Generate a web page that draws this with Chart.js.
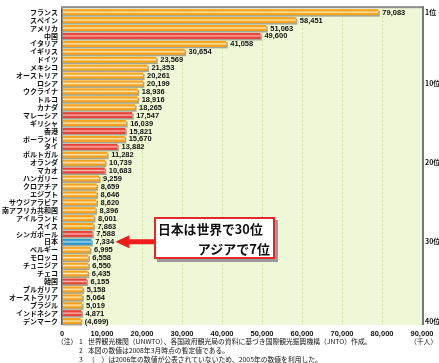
<!DOCTYPE html>
<html><head><meta charset="utf-8">
<script src="https://cdn.jsdelivr.net/npm/chart.js@4/dist/chart.umd.min.js"></script>
<style>
html,body{margin:0;padding:0;background:#fff;}
#wrap{position:relative;width:439px;height:363px;overflow:hidden;}
canvas{position:absolute;left:0;top:0;}
.n{position:absolute;font-family:"Noto Sans CJK JP";font-size:6.8px;color:#111;white-space:nowrap;line-height:8px;}
#callout{position:absolute;left:154px;top:217px;width:117px;height:38px;border:2px solid #e8262a;background:#fff;box-shadow:3px 3px 0 #9a9a9a;font-family:"Noto Sans CJK JP";font-weight:bold;font-size:12.8px;color:#111;}
#callout .l1{position:absolute;left:2px;top:3px;line-height:14px;white-space:nowrap;}
#callout .l2{position:absolute;right:3px;top:23px;line-height:14px;white-space:nowrap;font-size:13px;}
</style></head>
<body><div id="wrap">
<canvas id="c" width="439" height="363"></canvas>
<div id="callout"><span class="l1">日本は世界で30位</span><span class="l2">アジアで7位</span></div>
<div class="n" style="left:57px;top:337px">（注）</div>
<div class="n" style="left:79px;top:337px">1</div>
<div class="n" style="left:88px;top:337px">世界観光機関（UNWTO）、各国政府観光局の資料に基づき国際観光振興機構（JNTO）作成。</div>
<div class="n" style="left:79px;top:346px">2</div>
<div class="n" style="left:88px;top:346px">本図の数値は2008年3月時点の暫定値である。</div>
<div class="n" style="left:79px;top:355px">3</div>
<div class="n" style="left:88px;top:355px">（　）は2006年の数値が公表されていないため、2005年の数値を利用した。</div>
<div class="n" style="left:410px;top:337px">（千人）</div>
</div>
<script>
const countries = ['フランス','スペイン','アメリカ','中国','イタリア','イギリス','ドイツ','メキシコ','オーストリア','ロシア',
 'ウクライナ','トルコ','カナダ','マレーシア','ギリシャ','香港','ポーランド','タイ','ポルトガル','オランダ',
 'マカオ','ハンガリー','クロアチア','エジプト','サウジアラビア','南アフリカ共和国','アイルランド','スイス','シンガポール','日本',
 'ベルギー','モロッコ','チュニジア','チェコ','韓国','ブルガリア','オーストラリア','ブラジル','インドネシア','デンマーク'];
const visitors = [79083,58451,51063,49600,41058,30654,23569,21353,20261,20199,
 18936,18916,18265,17547,16039,15821,15670,13882,11282,10739,
 10683,9259,8659,8646,8620,8396,8001,7863,7588,7334,
 6995,6558,6550,6435,6155,5158,5064,5019,4871,4699];
const asiaCountries = ['中国','マレーシア','香港','タイ','マカオ','シンガポール','韓国','インドネシア'];
const highlightCountry = '日本';
const figures2005 = ['デンマーク'];
const rankTicks = [1,10,20,30,40];
const xTicks = [0,10000,20000,30000,40000,50000,60000,70000,80000,90000];

const palette = {
  other:{base:'#f5a21f', light:'#fde6ae'},
  asia:{base:'#e8423b', light:'#f8b4a6'},
  japan:{base:'#2e97cc', light:'#a8d8ef'}
};
function groupOf(name){ return name===highlightCountry?'japan':(asiaCountries.includes(name)?'asia':'other'); }
const rankAxisLabels = countries.map((c,i)=> rankTicks.includes(i+1) ? (i+1)+'位' : '');

const bgPlugin = {
  id:'bg',
  beforeDraw(chart){
    const {ctx, chartArea:a} = chart;
    ctx.save(); ctx.fillStyle='#eef7d6'; ctx.fillRect(a.left,a.top,a.right-a.left,a.bottom-a.top); ctx.restore();
  },
  beforeDatasetsDraw(chart){
    const ctx = chart.ctx;
    const meta = chart.getDatasetMeta(0);
    ctx.save(); ctx.fillStyle='#a3a896';
    meta.data.forEach(b=>{
      const p = b.getProps(['x','y','base','height'], true);
      ctx.fillRect(p.base, p.y - p.height/2 + 1.5, p.x - p.base + 1.5, p.height);
    });
    ctx.restore();
  },
  afterDatasetsDraw(chart){
    const {ctx, chartArea:a} = chart;
    const meta = chart.getDatasetMeta(0);
    ctx.save();
    meta.data.forEach((b,i)=>{
      const p = b.getProps(['x','y','base','height'], true);
      const col = palette[groupOf(countries[i])];
      const top = p.y - p.height/2;
      const g = ctx.createLinearGradient(0, top, 0, top + p.height);
      g.addColorStop(0, col.base); g.addColorStop(0.25, col.base);
      g.addColorStop(0.5, col.light); g.addColorStop(0.75, col.base); g.addColorStop(1, col.base);
      ctx.fillStyle = g;
      ctx.fillRect(p.base, top, p.x - p.base, p.height);
    });
    // borders
    ctx.fillStyle='#8c8c8c'; ctx.fillRect(a.left-1, a.top-2, a.right-a.left+2, 2);
    ctx.fillStyle='#555'; ctx.fillRect(a.left-1, a.top, 1.5, a.bottom-a.top);
    ctx.fillStyle='#777'; ctx.fillRect(a.right, a.top-2, 2, a.bottom-a.top+2);
    // value labels
    ctx.fillStyle='#111'; ctx.font='bold 7.5px "Liberation Sans", Arial, sans-serif';
    ctx.textBaseline='middle'; ctx.textAlign='left';
    meta.data.forEach((b,i)=>{
      const p = b.getProps(['x','y'], true);
      let s = visitors[i].toLocaleString('en-US');
      if (figures2005.includes(countries[i])) s = '(' + s + ')';
      ctx.fillText(s, p.x + 4, p.y + 0.5);
    });
    // arrow to Japan
    const ji = countries.indexOf(highlightCountry);
    const y = chart.scales.y.getPixelForValue(ji);
    const tipX = chart.scales.x.getPixelForValue(visitors[ji]) + 24;
    ctx.fillStyle='#ee1c1c';
    ctx.beginPath();
    ctx.moveTo(tipX, y);
    ctx.lineTo(tipX+14, y-6.5);
    ctx.lineTo(tipX+14, y-2.5);
    ctx.lineTo(154, y-2.5);
    ctx.lineTo(154, y+2.5);
    ctx.lineTo(tipX+14, y+2.5);
    ctx.lineTo(tipX+14, y+6.5);
    ctx.closePath(); ctx.fill();
    ctx.restore();
  }
};

new Chart(document.getElementById('c'), {
  type:'bar',
  data:{ labels:countries, datasets:[{ data:visitors, backgroundColor:'rgba(0,0,0,0)', barThickness:6, borderWidth:0 }] },
  options:{
    indexAxis:'y', responsive:false, animation:false,
    layout:{padding:{top:2,left:0,right:0,bottom:0}},
    plugins:{legend:{display:false}, tooltip:{enabled:false}},
    scales:{
      x:{ min:0, max:90000, afterBuildTicks(s){ s.ticks = xTicks.map(v=>({value:v})); },
          afterFit(s){ s.height = 38; },
          border:{display:false, dash:[2,2]},
          grid:{ drawTicks:false, lineWidth:1, color:(c)=> (c.tick && (c.tick.value===0||c.tick.value===90000)) ? 'rgba(0,0,0,0)' : '#cfe3a3' },
          ticks:{ padding:4, color:'#111', font:{family:'"Liberation Sans", Arial, sans-serif', size:7.5, weight:'bold'},
                  callback:(v)=> Number(v).toLocaleString('en-US') } },
      y:{ afterFit(s){ s.width = 62; }, grid:{display:false, drawTicks:false}, border:{display:false},
          ticks:{ autoSkip:false, padding:4, crossAlign:'near', color:'#111', font:{family:'"Noto Sans CJK JP"', size:7, weight:'bold'} } },
      y2:{ type:'category', labels:rankAxisLabels, position:'right', offset:true,
           afterFit(s){ s.width = 17; }, grid:{display:false, drawTicks:false}, border:{display:false},
           ticks:{ autoSkip:false, padding:3, color:'#111', font:{family:'"Noto Sans CJK JP"', size:7, weight:'bold'} } }
    }
  },
  plugins:[bgPlugin]
});
</script>
</body></html>
